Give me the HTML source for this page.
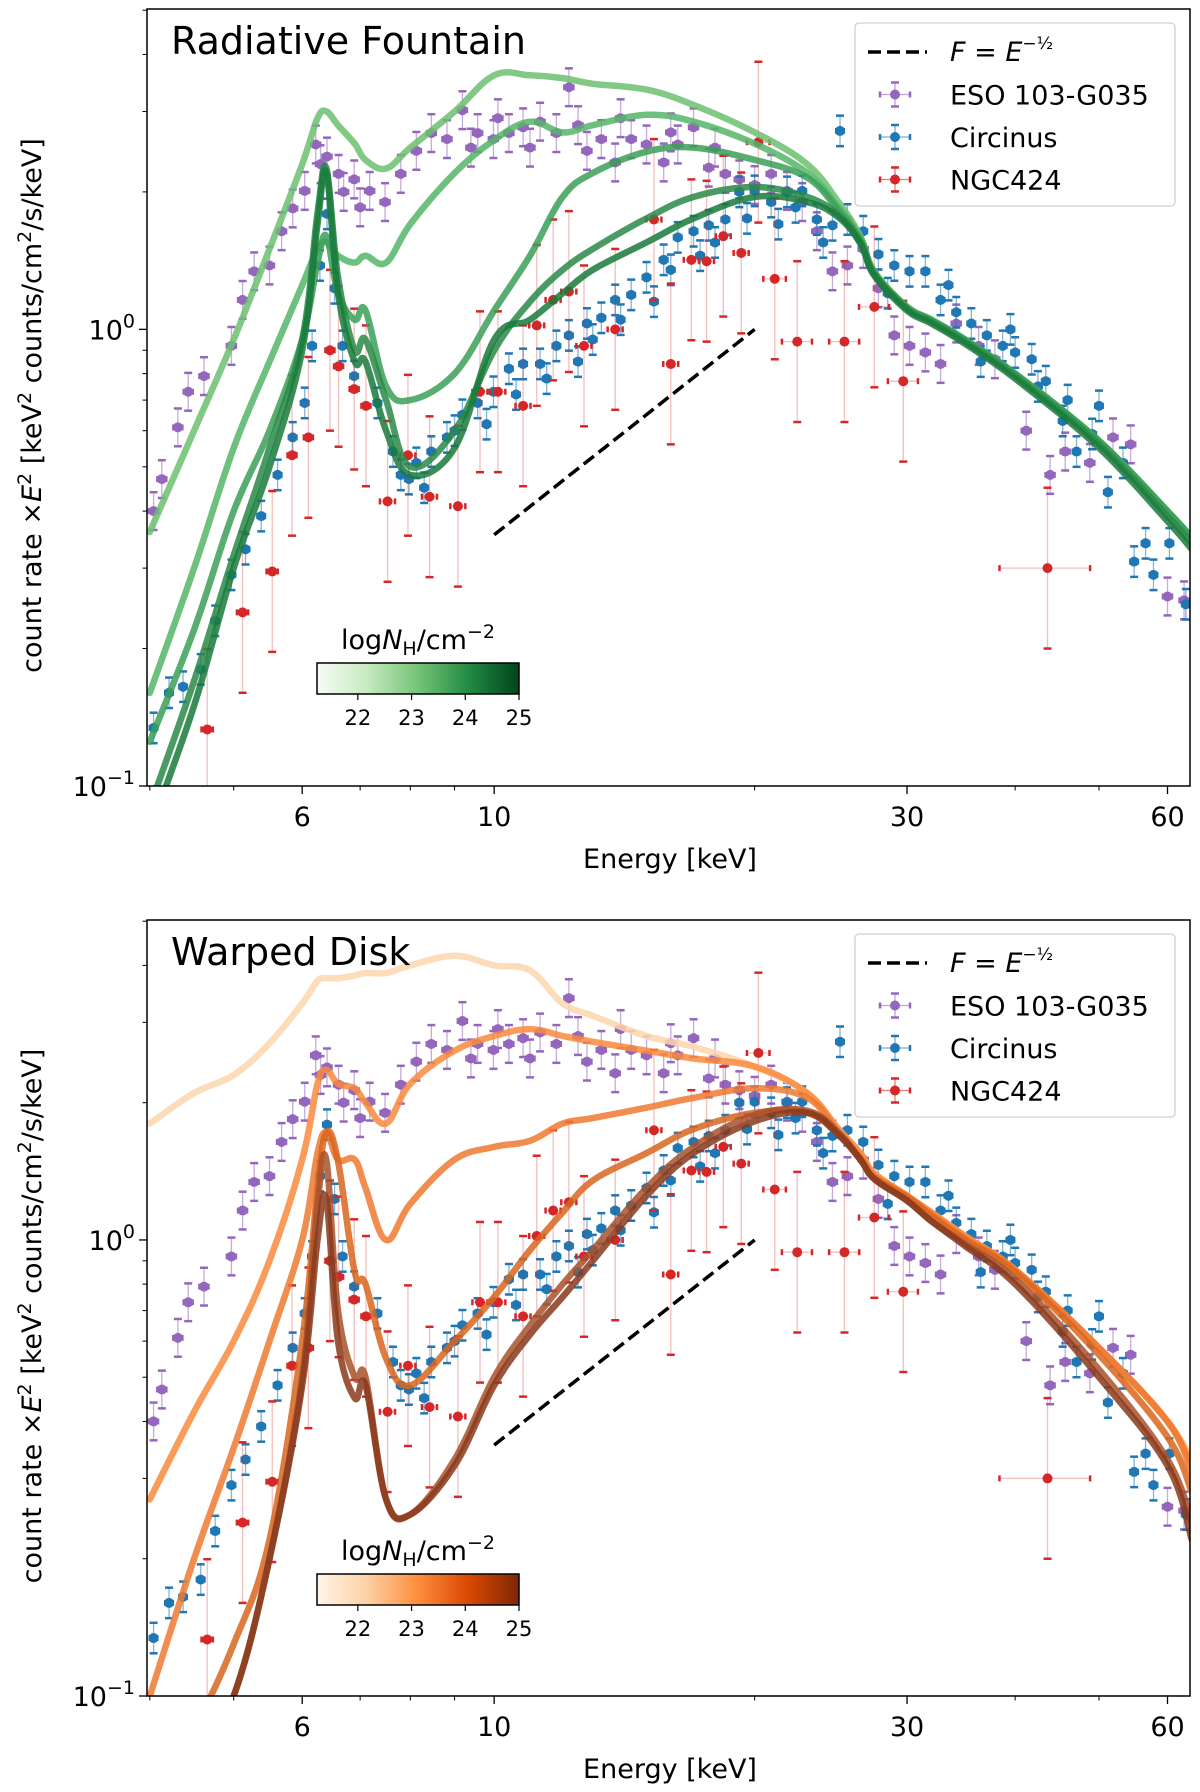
<!DOCTYPE html>
<html><head><meta charset="utf-8">
<style>
html,body{margin:0;padding:0;background:#fff;}
svg{display:block;font-family:"DejaVu Sans","Liberation Sans",sans-serif;}
</style></head>
<body>
<svg id="fig" width="1200" height="1792" viewBox="0 0 1200 1792" xmlns="http://www.w3.org/2000/svg">
<defs>
<linearGradient id="gGreen" x1="0" x2="1" y1="0" y2="0">
<stop offset="0" stop-color="#f7fcf5"/><stop offset="0.25" stop-color="#c7e9c0"/><stop offset="0.5" stop-color="#74c476"/><stop offset="0.75" stop-color="#238b45"/><stop offset="1" stop-color="#00441b"/>
</linearGradient>
<linearGradient id="gOrange" x1="0" x2="1" y1="0" y2="0">
<stop offset="0" stop-color="#fff5eb"/><stop offset="0.25" stop-color="#fdd0a2"/><stop offset="0.5" stop-color="#fd8d3c"/><stop offset="0.75" stop-color="#d94801"/><stop offset="1" stop-color="#7f2704"/>
</linearGradient>
<clipPath id="clipTop"><rect x="147" y="9" width="1043" height="777"/></clipPath>
<clipPath id="clipBot"><rect x="147" y="920" width="1043" height="776"/></clipPath>
</defs>
</svg>
<script>
// ---- data ----
const modelE = [4.0,4.5,5.0,5.5,6.0,6.25,6.4,6.6,6.9,7.1,7.5,8.0,9.0,10,11,12,13,15,17,20,23,25,26.5,27.5,30,32,35,40,50,60,64];
const rfG1 = [0.36,0.6,0.95,1.5,2.3,2.9,3.0,2.8,2.55,2.35,2.25,2.5,3.0,3.6,3.6,3.55,3.45,3.35,3.1,2.7,2.3,1.9,1.6,1.34,1.12,1.05,0.95,0.8,0.57,0.4,0.35];
const rfG2 = [0.16,0.3,0.55,0.85,1.25,1.5,1.55,1.45,1.4,1.45,1.4,1.7,2.2,2.6,2.85,2.7,2.8,2.95,2.85,2.55,2.2,1.85,1.58,1.33,1.12,1.05,0.95,0.8,0.57,0.4,0.35];
const rfG3 = [0.125,0.22,0.4,0.6,0.95,1.4,1.6,1.2,1.05,1.1,0.75,0.7,0.8,1.1,1.45,1.95,2.2,2.45,2.5,2.35,2.15,1.82,1.57,1.33,1.12,1.05,0.95,0.8,0.57,0.4,0.35];
const rfG4 = [0.09,0.17,0.32,0.55,0.95,1.8,2.25,1.3,0.9,0.95,0.7,0.5,0.6,0.9,1.15,1.35,1.5,1.75,1.95,2.05,1.95,1.78,1.55,1.32,1.11,1.04,0.94,0.79,0.56,0.39,0.34];
const rfG5 = [0.08,0.15,0.3,0.5,0.9,1.7,2.2,1.2,0.85,0.85,0.6,0.48,0.55,0.95,1.05,1.2,1.35,1.55,1.75,1.95,1.9,1.76,1.54,1.31,1.1,1.03,0.93,0.78,0.55,0.38,0.33];
const wdO1 = [1.8,2.1,2.3,2.7,3.3,3.7,3.75,3.75,3.8,3.85,3.85,4.0,4.2,4.0,3.9,3.3,3.1,2.8,2.65,2.4,2.1,1.75,1.55,1.4,1.25,1.15,1.02,0.86,0.58,0.4,0.33];
const wdO2 = [0.27,0.42,0.6,0.9,1.5,2.2,2.36,2.2,2.15,2.0,1.8,2.2,2.6,2.8,2.9,2.8,2.72,2.6,2.5,2.4,2.1,1.75,1.55,1.4,1.25,1.15,1.02,0.86,0.58,0.4,0.32];
const wdO3 = [0.1,0.2,0.35,0.6,1.0,1.55,1.72,1.5,1.5,1.3,1.0,1.2,1.5,1.6,1.65,1.8,1.85,1.95,2.05,2.15,2.05,1.72,1.52,1.38,1.25,1.14,1.01,0.86,0.58,0.4,0.31];
const wdO4 = [0.06,0.085,0.13,0.22,0.6,1.3,1.72,1.49,0.85,0.8,0.55,0.48,0.6,0.75,0.95,1.15,1.35,1.55,1.75,1.9,1.9,1.7,1.5,1.37,1.24,1.13,1.0,0.85,0.56,0.37,0.28];
const wdO5 = [0.05,0.07,0.1,0.2,0.5,1.2,1.49,0.7,0.5,0.5,0.27,0.25,0.33,0.5,0.65,0.8,0.95,1.3,1.6,1.88,1.92,1.72,1.5,1.36,1.22,1.1,0.98,0.82,0.52,0.33,0.24];
const wdO6 = [0.05,0.07,0.1,0.2,0.48,1.0,1.22,0.6,0.45,0.48,0.27,0.25,0.32,0.48,0.62,0.75,0.9,1.25,1.55,1.82,1.9,1.7,1.5,1.36,1.22,1.1,0.97,0.8,0.5,0.32,0.22];

const esoE = [4.04,4.13,4.31,4.43,4.62,4.97,5.12,5.28,5.5,5.68,5.85,6.04,6.22,6.3,6.41,6.61,6.7,6.89,7.0,7.18,7.48,7.8,8.13,8.46,8.82,9.19,9.4,9.57,9.98,10.1,10.4,10.8,11.0,11.3,11.8,12.2,12.5,12.8,13.3,13.8,14.0,14.4,15.0,15.7,16.0,16.3,17.0,17.7,18.0,18.5,19.2,20.0,20.9,21.8,22.7,23.6,24.6,25.6,26.7,27.8,29.0,30.2,31.5,32.8,34.2,36.3,37.9,41.2,43.9,45.7,48.8,51.9,54.4,60,62.7];
const esoV = [0.40,0.47,0.61,0.73,0.79,0.92,1.16,1.34,1.38,1.64,1.84,2.01,2.54,2.3,2.39,2.19,2.0,2.13,1.85,2.01,1.90,2.19,2.46,2.69,2.61,3.02,2.5,2.69,2.61,2.9,2.69,2.77,2.5,2.85,2.69,3.39,2.8,2.46,2.61,2.32,2.9,2.61,2.54,2.32,2.7,2.54,2.77,2.26,2.5,2.19,2.13,2.07,2.19,2.01,1.90,1.64,1.34,1.38,1.50,1.23,0.97,0.92,0.89,0.84,1.03,0.92,0.86,0.60,0.48,0.54,0.51,0.58,0.56,0.26,0.255];
const cirE = [4.04,4.21,4.37,4.58,4.76,4.97,5.16,5.38,5.62,5.85,6.04,6.16,6.29,6.41,6.54,6.68,6.89,7.33,7.64,7.8,7.97,8.13,8.3,8.46,8.82,9.0,9.19,9.57,9.8,9.98,10.4,10.6,10.8,11.3,11.5,11.8,12.2,12.5,12.8,13.0,13.3,13.8,14.0,14.4,15.0,15.3,15.7,16.0,16.3,17.0,17.3,17.7,18.0,18.5,19.2,19.6,20.0,20.9,21.3,21.8,22.3,22.7,23.6,24.0,24.6,25.1,25.6,26.7,27.8,28.5,29.0,30.2,31.5,32.8,33.5,34.2,35.6,36.5,37.1,38.7,39.5,40.0,41.8,42.5,43.4,45.4,46.0,47.1,49.1,50.0,51.2,53.3,54.9,56.6,57.8,60.3,63.0];
const cirV = [0.134,0.16,0.165,0.18,0.23,0.29,0.33,0.39,0.48,0.58,0.69,0.92,1.38,1.79,1.23,0.92,0.79,0.69,0.54,0.48,0.47,0.51,0.45,0.54,0.58,0.6,0.65,0.69,0.62,0.73,0.82,0.72,0.84,0.84,0.78,0.92,0.97,0.85,1.03,0.95,1.06,1.16,1.05,1.19,1.30,1.15,1.42,1.35,1.59,1.64,1.45,1.69,1.55,1.74,2.0,1.75,2.01,1.9,1.7,2.0,1.85,2.01,1.74,1.55,1.69,2.72,1.74,1.64,1.46,1.2,1.38,1.34,1.34,1.16,1.25,1.09,1.03,0.85,0.97,0.92,1.0,0.89,0.86,0.75,0.77,0.63,0.7,0.54,0.59,0.68,0.44,0.51,0.31,0.34,0.29,0.34,0.25];
const ngcE = [4.66,5.12,5.54,5.84,6.10,6.46,6.61,6.89,7.11,7.53,7.95,8.42,9.08,9.63,10.1,10.8,11.2,11.7,12.2,12.7,13.8,15.3,16.0,16.9,17.6,18.4,19.3,20.2,21.1,22.4,25.4,27.5,29.7,43.6];
const ngcV = [0.133,0.24,0.295,0.53,0.58,0.90,0.83,0.74,0.68,0.42,0.53,0.43,0.41,0.73,0.73,0.68,1.02,1.16,1.21,0.92,1.0,1.74,0.84,1.42,1.41,1.60,1.47,2.57,1.29,0.94,0.94,1.12,0.77,0.30];
const ngcXerr = [0.015,0.015,0.015,0.012,0.012,0.012,0.012,0.012,0.012,0.02,0.02,0.02,0.02,0.02,0.02,0.02,0.02,0.02,0.02,0.02,0.02,0.02,0.02,0.02,0.02,0.02,0.02,0.03,0.03,0.04,0.04,0.04,0.04,0.12];
const slopeE = [10, 20];
const slopeV = [0.355, 1.0];
const xTickVals = [6, 10, 30, 60];
const xTickLabels = ["6", "10", "30", "60"];
const xMinorVals = [4, 5, 7, 8, 9, 20, 40, 50];
const cbTicks = [22, 23, 24, 25];
const legendLabels = ["ESO 103-G035", "Circinus", "NGC424"];

// ---- helpers ----
const NS = "http://www.w3.org/2000/svg";
const svg = document.getElementById("fig");
function mk(tag, attrs, parent) {
  const el = document.createElementNS(NS, tag);
  for (const k in attrs) el.setAttribute(k, attrs[k]);
  (parent || svg).appendChild(el);
  return el;
}
const L = 147, R = 1190, Emin = 3.97, Emax = 63.7, Vmin = 0.1, Vmax = 5.03;
function xScale(E) { return L + (Math.log10(E) - Math.log10(Emin)) / (Math.log10(Emax) - Math.log10(Emin)) * (R - L); }
function makeY(T, B) { return v => B - (Math.log10(v) - Math.log10(Vmin)) / (Math.log10(Vmax) - Math.log10(Vmin)) * (B - T); }
function smoothPath(p) {
  let d = "M" + p[0][0].toFixed(1) + "," + p[0][1].toFixed(1);
  for (let i = 0; i < p.length - 1; i++) {
    const p0 = p[Math.max(0, i - 1)], p1 = p[i], p2 = p[i + 1], p3 = p[Math.min(p.length - 1, i + 2)];
    const t = 0.18;
    const c1x = p1[0] + (p2[0] - p0[0]) * t, c1y = p1[1] + (p2[1] - p0[1]) * t;
    const c2x = p2[0] - (p3[0] - p1[0]) * t, c2y = p2[1] - (p3[1] - p1[1]) * t;
    d += " C" + c1x.toFixed(1) + "," + c1y.toFixed(1) + " " + c2x.toFixed(1) + "," + c2y.toFixed(1) + " " + p2[0].toFixed(1) + "," + p2[1].toFixed(1);
  }
  return d;
}

function drawPanel(cfg) {
  const T = cfg.T, B = cfg.B, yScale = makeY(T, B);
  const g = mk("g", {});
  
  
  const plot = mk("g", {"clip-path": "url(#" + cfg.clip + ")"}, g);
  
  

  const sets = [
    {E: esoE, V: esoV, c: "#9467bd", ec: "rgba(148,103,189,0.55)", yerr: 0.1, xerr: 0.012, name: "eso-points"},
    {E: cirE, V: cirV, c: "#1f77b4", ec: "rgba(31,119,180,0.55)", yerr: 0.08, xerr: 0.01, name: "circinus-points"},
    {E: ngcE, V: ngcV, c: "#d62728", ec: "rgba(214,39,40,0.3)", yerr: 0.5, xerr: null, name: "ngc424-points"}
  ];
  sets.forEach(s => {
    const sg = mk("g", {}, plot);
    
    
    s.E.forEach((E, i) => {
      const v = s.V[i];
      const xe = s.xerr === null ? ngcXerr[i] : s.xerr;
      const x = xScale(E), y = yScale(v);
      const x1 = xScale(E * (1 - xe)), x2 = xScale(E * (1 + xe));
      const y1 = yScale(v * (1 + s.yerr)), y2 = yScale(v / (1 + s.yerr));
      mk("line", {x1: x, x2: x, y1: y1, y2: y2, stroke: s.ec, "stroke-width": 1.3}, sg);
      mk("line", {x1: x1, x2: x2, y1: y, y2: y, stroke: s.ec, "stroke-width": 1.3}, sg);
      mk("line", {x1: x - 4, x2: x + 4, y1: y1, y2: y1, stroke: s.c, "stroke-width": 2.5}, sg);
      mk("line", {x1: x - 4, x2: x + 4, y1: y2, y2: y2, stroke: s.c, "stroke-width": 2.5}, sg);
      mk("line", {x1: x1, x2: x1, y1: y - 3, y2: y + 3, stroke: s.c, "stroke-width": 2.5}, sg);
      mk("line", {x1: x2, x2: x2, y1: y - 3, y2: y + 3, stroke: s.c, "stroke-width": 2.5}, sg);
      const c = mk("circle", {cx: x, cy: y, r: 5, fill: s.c}, sg);
      
      
    });
  });

  cfg.curves.forEach((cv, k) => {
    const pts = modelE.map((E, i) => [xScale(E), yScale(cv.v[i])]);
    const pl = mk("path", {d: smoothPath(pts), fill: "none", stroke: cv.c, "stroke-width": 6.5, "stroke-opacity": 0.85, "stroke-linejoin": "round", "stroke-linecap": "round"}, plot);
    
    
  });

  const sl = mk("line", {x1: xScale(slopeE[0]), y1: yScale(slopeV[0]), x2: xScale(slopeE[1]), y2: yScale(slopeV[1]), stroke: "#000", "stroke-width": 3.5, "stroke-dasharray": "13,6"}, plot);
  
  

  const fr = mk("rect", {x: L, y: T, width: R - L, height: B - T, fill: "none", stroke: "#000", "stroke-width": 1.5}, g);
  
  

  xTickVals.forEach((E, i) => {
    const x = xScale(E);
    mk("line", {x1: x, x2: x, y1: B, y2: B + 8, stroke: "#000", "stroke-width": 1.3}, g);
    const t = mk("text", {x: x, y: B + 40, "text-anchor": "middle", "font-size": 27}, g);
    t.textContent = xTickLabels[i];
    
    
  });
  xMinorVals.forEach(E => {
    const x = xScale(E);
    mk("line", {x1: x, x2: x, y1: B, y2: B + 4.5, stroke: "#000", "stroke-width": 1}, g);
  });
  [1, 0.1].forEach(v => {
    const y = yScale(v);
    mk("line", {x1: L - 8, x2: L, y1: y, y2: y, stroke: "#000", "stroke-width": 1.3}, g);
    const t = mk("text", {x: L - 12, y: y + 10, "text-anchor": "end", "font-size": 27}, g);
    
    
    t.innerHTML = '10<tspan dy="-12" font-size="19">' + (v === 1 ? "0" : "\u22121") + '</tspan>';
  });
  [0.2,0.3,0.4,0.5,0.6,0.7,0.8,0.9,2,3,4,5].forEach(v => {
    const y = yScale(v);
    if (y >= T) mk("line", {x1: L - 4.5, x2: L, y1: y, y2: y, stroke: "#000", "stroke-width": 1}, g);
  });

  const xl = mk("text", {x: 670, y: B + 82, "text-anchor": "middle", "font-size": 27}, g);
  xl.textContent = "Energy [keV]";
  
  
  const cy = (T + B) / 2 + 8;
  const yl = mk("text", {x: 0, y: 0, "text-anchor": "middle", "font-size": 27, transform: "translate(41," + cy + ") rotate(-90)"}, g);
  
  
  yl.innerHTML = 'count rate \u00d7<tspan font-style="italic">E</tspan><tspan dy="-10" font-size="19">2</tspan><tspan dy="10"> [keV</tspan><tspan dy="-10" font-size="19">2</tspan><tspan dy="10"> counts/cm</tspan><tspan dy="-10" font-size="19">2</tspan><tspan dy="10">/s/keV]</tspan>';

  const ti = mk("text", {x: 171, y: T + 45, "font-size": 38}, g);
  ti.textContent = cfg.title;
  
  

  const lg = mk("g", {}, g);
  
  
  mk("rect", {x: 855, y: T + 14, width: 320, height: 183, rx: 4, fill: "rgba(255,255,255,0.85)", stroke: "#d0d0d0", "stroke-width": 1.3}, lg);
  const ly0 = T + 43;
  mk("line", {x1: 868, x2: 927, y1: ly0, y2: ly0, stroke: "#000", "stroke-width": 3.5, "stroke-dasharray": "13,6"}, lg);
  const lt = mk("text", {x: 950, y: ly0 + 9, "font-size": 27}, lg);
  lt.innerHTML = '<tspan font-style="italic">F</tspan> = <tspan font-style="italic">E</tspan><tspan dy="-12" font-size="17">\u2212\u00bd</tspan>';
  
  
  const lcols = ["#9467bd", "#1f77b4", "#d62728"];
  legendLabels.forEach((lab, i) => {
    const y = ly0 + 42.5 * (i + 1);
    mk("line", {x1: 880, x2: 910, y1: y, y2: y, stroke: lcols[i], "stroke-width": 1.3, "stroke-opacity": 0.6}, lg);
    mk("line", {x1: 895, x2: 895, y1: y - 12, y2: y + 12, stroke: lcols[i], "stroke-width": 1.3, "stroke-opacity": 0.6}, lg);
    mk("line", {x1: 880, x2: 880, y1: y - 3, y2: y + 3, stroke: lcols[i], "stroke-width": 2.5}, lg);
    mk("line", {x1: 910, x2: 910, y1: y - 3, y2: y + 3, stroke: lcols[i], "stroke-width": 2.5}, lg);
    mk("line", {x1: 891, x2: 899, y1: y - 12, y2: y - 12, stroke: lcols[i], "stroke-width": 2.5}, lg);
    mk("line", {x1: 891, x2: 899, y1: y + 12, y2: y + 12, stroke: lcols[i], "stroke-width": 2.5}, lg);
    mk("circle", {cx: 895, cy: y, r: 5, fill: lcols[i]}, lg);
    const t = mk("text", {x: 950, y: y + 10, "font-size": 27}, lg);
    t.textContent = lab;
    
    
  });

  const cb = mk("g", {}, g);
  
  
  const cbT = T + 654, cbL = 317, cbR = 519, cMin = 21.24, cMax = 25;
  mk("rect", {x: cbL, y: cbT, width: cbR - cbL, height: 31, fill: "url(#" + cfg.grad + ")", stroke: "#000", "stroke-width": 1.5}, cb);
  cbTicks.forEach(v => {
    const x = cbL + (v - cMin) / (cMax - cMin) * (cbR - cbL);
    mk("line", {x1: x, x2: x, y1: cbT + 31, y2: cbT + 37, stroke: "#000", "stroke-width": 1.2}, cb);
    const t = mk("text", {x: x, y: cbT + 62, "text-anchor": "middle", "font-size": 21}, cb);
    t.textContent = v;
    
    
  });
  const cl = mk("text", {x: 418, y: cbT - 14, "text-anchor": "middle", "font-size": 27}, cb);
  cl.innerHTML = 'log<tspan font-style="italic">N</tspan><tspan dy="6" font-size="19">H</tspan><tspan dy="-6">/cm</tspan><tspan dy="-11" font-size="19">\u22122</tspan>';
  
  
}

drawPanel({name: "radiative-fountain-panel", title: "Radiative Fountain", T: 9, B: 786, clip: "clipTop", grad: "gGreen",
  curves: [{v: rfG1, c: "#6cc070"}, {v: rfG2, c: "#55b567"}, {v: rfG3, c: "#3b9f57"}, {v: rfG4, c: "#2a8a48"}, {v: rfG5, c: "#1a7a3c"}]});
drawPanel({name: "warped-disk-panel", title: "Warped Disk", T: 920, B: 1696, clip: "clipBot", grad: "gOrange",
  curves: [{v: wdO1, c: "#fdd6ad"}, {v: wdO2, c: "#f98a3c"}, {v: wdO3, c: "#ee7a30"}, {v: wdO4, c: "#d9651f"}, {v: wdO5, c: "#a9512a"}, {v: wdO6, c: "#8a3a1c"}]});
</script>
</body></html>
